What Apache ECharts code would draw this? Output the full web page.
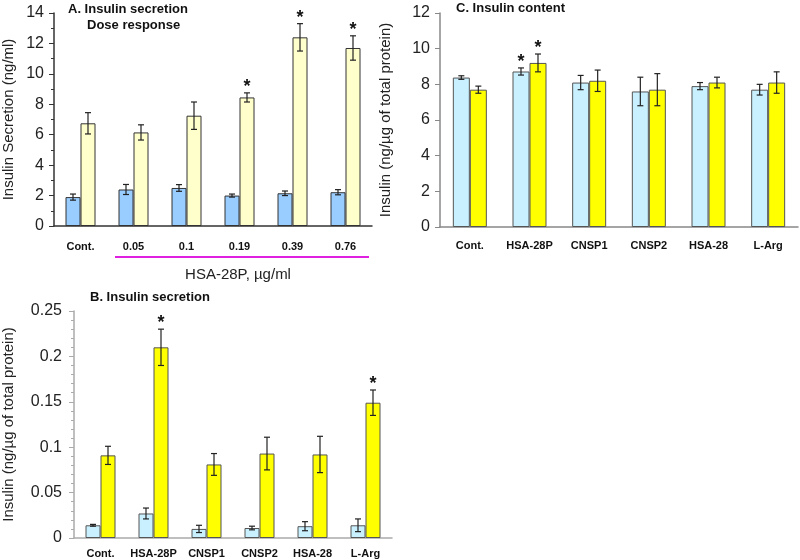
<!DOCTYPE html>
<html>
<head>
<meta charset="utf-8">
<script src="https://cdn.jsdelivr.net/npm/echarts@6/dist/echarts.min.js"></script>
<style>
  html, body { margin: 0; padding: 0; background: #fff; }
  #chart { width: 800px; height: 560px; }
</style>
</head>
<body>
<div id="chart"></div>
<script>
// panel A: dose response
const catA = ['Cont.', '0.05', '0.1', '0.19', '0.39', '0.76']
const basalA = [1.9, 2.4, 2.5, 2.0, 2.15, 2.22]
const errBasalA = [0.2, 0.33, 0.22, 0.1, 0.15, 0.17]
const stimA = [6.75, 6.15, 7.25, 8.45, 12.4, 11.7]
const errStimA = [0.7, 0.5, 0.9, 0.3, 0.9, 0.8]
const sigBasalA = [0, 0, 0, 0, 0, 0]
const sigStimA = [0, 0, 0, 1, 1, 1]

// panel B: secretion
const catB = ['Cont.', 'HSA-28P', 'CNSP1', 'CNSP2', 'HSA-28', 'L-Arg']
const basalB = [0.014, 0.027, 0.010, 0.011, 0.013, 0.014]
const errBasalB = [0.001, 0.006, 0.004, 0.002, 0.005, 0.007]
const stimB = [0.091, 0.21, 0.081, 0.093, 0.092, 0.149]
const errStimB = [0.01, 0.02, 0.012, 0.018, 0.02, 0.014]
const sigBasalB = [0, 0, 0, 0, 0, 0]
const sigStimB = [0, 1, 0, 0, 0, 1]

// panel C: content
const catC = ['Cont.', 'HSA-28P', 'CNSP1', 'CNSP2', 'HSA-28', 'L-Arg']
const basalC = [8.38, 8.72, 8.1, 7.6, 7.9, 7.7]
const errBasalC = [0.1, 0.2, 0.4, 0.8, 0.2, 0.3]
const stimC = [7.7, 9.2, 8.2, 7.7, 8.1, 8.1]
const errStimC = [0.2, 0.5, 0.6, 0.9, 0.3, 0.6]
const sigBasalC = [0, 1, 0, 0, 0, 0]
const sigStimC = [0, 1, 0, 0, 0, 0]

const FONT = 'Liberation Sans, Arial, sans-serif'

// error bar + asterisk, shifted onto its bar
const errSeries = (idx, vals, errs, sigs, shift) => ({
    type: 'custom',
    xAxisIndex: idx,
    yAxisIndex: idx,
    z: 10,
    silent: true,
    data: vals.map((v, i) => [i, v, errs[i], sigs[i]]),
    renderItem: (params, api) => {
        const i = api.value(0)
        const v = api.value(1)
        const e = api.value(2)
        const top = api.coord([i, v + e])
        const bot = api.coord([i, v - e])
        const x = top[0] + shift
        const cap = 3
        const st = { stroke: '#222', lineWidth: 1.2 }
        const children = [
            { type: 'line', shape: { x1: x, y1: top[1], x2: x, y2: bot[1] }, style: st },
            { type: 'line', shape: { x1: x - cap, y1: top[1], x2: x + cap, y2: top[1] }, style: st },
            { type: 'line', shape: { x1: x - cap, y1: bot[1], x2: x + cap, y2: bot[1] }, style: st }
        ]
        if (api.value(3)) {
            children.push({
                type: 'text',
                style: {
                    text: '*', x: x, y: top[1] - 15,
                    align: 'center', verticalAlign: 'top',
                    font: 'bold 18px ' + FONT, fill: '#111'
                }
            })
        }
        return { type: 'group', children }
    }
})

const panel = (idx, basal, errB, stim, errS, sigB, sigS, colors, border, w) => [
    {
        type: 'bar', xAxisIndex: idx, yAxisIndex: idx, data: basal,
        barWidth: w, barGap: '0%',
        itemStyle: { color: colors[0], borderColor: border, borderWidth: 1 }
    },
    {
        type: 'bar', xAxisIndex: idx, yAxisIndex: idx, data: stim,
        barWidth: w, barGap: '0%',
        itemStyle: { color: colors[1], borderColor: border, borderWidth: 1 }
    },
    errSeries(idx, basal, errB, sigB, -w / 2),
    errSeries(idx, stim, errS, sigS, w / 2)
]

const xAx = (idx, cats, lineColor, margin) => ({
    type: 'category', gridIndex: idx, data: cats,
    axisLine: { lineStyle: { color: lineColor, width: 1.5 } },
    axisTick: { show: false },
    axisLabel: { color: '#111', fontFamily: FONT, fontWeight: 'bold', fontSize: 11, margin: margin, interval: 0 }
})

const yAx = (idx, max, interval, name, nameGap, lineColor, margin, minorSplit) => ({
    type: 'value', gridIndex: idx, min: 0, max: max, interval: interval,
    name: name, nameLocation: 'middle', nameGap: nameGap,
    nameTextStyle: { fontFamily: FONT, fontSize: 15, color: '#222' },
    splitLine: { show: false },
    axisLine: { show: true, lineStyle: { color: lineColor, width: 1.5 } },
    axisTick: { show: true, length: 5, lineStyle: { color: lineColor } },
    minorTick: { show: minorSplit > 0, splitNumber: minorSplit || 1, length: 3, lineStyle: { color: lineColor } },
    axisLabel: { color: '#222', fontFamily: FONT, fontSize: 16, margin: margin }
})

const titleStyle = { fontFamily: FONT, fontSize: 13, fontWeight: 'bold', color: '#111' }

const chart = echarts.init(document.getElementById('chart'))
chart.setOption({
    animation: false,
    backgroundColor: '#fff',
    title: [
        { text: 'A. Insulin secretion', left: 68, top: 3, padding: 0, textStyle: titleStyle },
        { text: 'Dose response', left: 87, top: 19, padding: 0, textStyle: titleStyle },
        { text: 'B. Insulin secretion', left: 90, top: 291, padding: 0, textStyle: titleStyle },
        { text: 'C. Insulin content', left: 456, top: 2, padding: 0, textStyle: titleStyle }
    ],
    grid: [
        { left: 50, top: 13, width: 322, height: 213 },
        { left: 74, top: 311, width: 318, height: 227 },
        { left: 440, top: 13, width: 358, height: 214 }
    ],
    xAxis: [
        xAx(0, catA, '#333', 15),
        xAx(1, catB, '#aaa', 10),
        xAx(2, catC, '#888', 13)
    ],
    yAxis: [
        yAx(0, 14, 2, 'Insulin Secretion (ng/ml)', 38, '#333', 10, 2),
        yAx(1, 0.25, 0.05, 'Insulin (ng/µg of total protein)', 58, '#aaa', 12, 5),
        yAx(2, 12, 2, 'Insulin (ng/µg of total protein)', 47, '#888', 10, 0)
    ],
    series: [
        ...panel(0, basalA, errBasalA, stimA, errStimA, sigBasalA, sigStimA, ['#99ccff', '#ffffcc'], '#333', 15),
        ...panel(1, basalB, errBasalB, stimB, errStimB, sigBasalB, sigStimB, ['#c8f0ff', '#ffff00'], '#555', 15),
        ...panel(2, basalC, errBasalC, stimC, errStimC, sigBasalC, sigStimC, ['#c8f0ff', '#ffff00'], '#555', 17)
    ]
})

// magenta bracket under the HSA-28P doses in panel A
const p1 = chart.convertToPixel({ xAxisIndex: 0 }, catA[1])
const p2 = chart.convertToPixel({ xAxisIndex: 0 }, catA[5])
const half = (p2 - p1) / 8
const x1 = p1 - half + 8
const x2 = p2 + half - 3
chart.setOption({
    graphic: [
        { type: 'line', shape: { x1: x1, y1: 257, x2: x2, y2: 257 }, style: { stroke: '#e020e0', lineWidth: 2 } },
        {
            type: 'text', x: (x1 + x2) / 2 - 4, y: 275,
            style: { text: 'HSA-28P, µg/ml', align: 'center', verticalAlign: 'middle', font: '15px ' + FONT, fill: '#222' }
        }
    ]
})
</script>
</body>
</html>
